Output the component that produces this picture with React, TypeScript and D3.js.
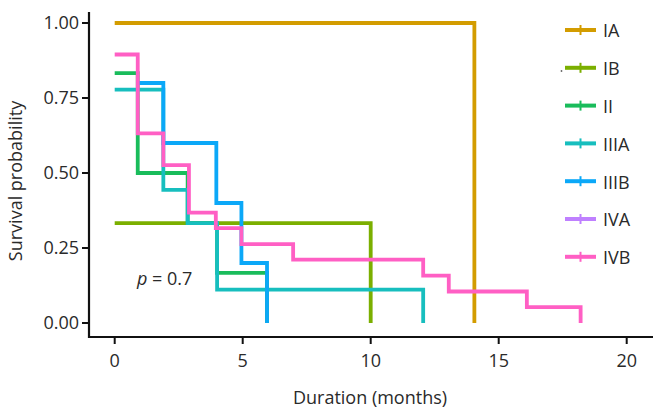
import React from "react";
import * as d3 from "d3";

const strata = ["IA", "IB", "II", "IIIA", "IIIB", "IVA", "IVB"];
const colors = ["#D39C00", "#7BAF00", "#19BC5B", "#17BEBE", "#0BA8F8", "#BF80FF", "#FF5FC4"];

// step curves: times at which survival changes, and survival after each time
const timesIA = [0, 14.05];
const survIA = [1.0, 0];
const timesIB = [0, 10.0];
const survIB = [0.333, 0];
const timesII = [0, 0.9, 2.85, 4.0, 5.95];
const survII = [0.833, 0.5, 0.333, 0.167, 0];
const timesIIIA = [0, 1.9, 2.85, 4.0, 12.05];
const survIIIA = [0.778, 0.444, 0.333, 0.111, 0];
const timesIIIB = [0.9, 1.9, 3.97, 4.95, 5.95];
const survIIIB = [0.8, 0.6, 0.4, 0.2, 0];
const timesIVA: number[] = [];
const survIVA: number[] = [];
const timesIVB = [0, 0.9, 1.9, 2.9, 3.95, 4.95, 6.97, 12.05, 13.05, 16.1, 18.2];
const survIVB = [0.895, 0.632, 0.526, 0.368, 0.316, 0.263, 0.211, 0.158, 0.105, 0.053, 0];

const seriesTimes = [timesIA, timesIB, timesII, timesIIIA, timesIIIB, timesIVA, timesIVB];
const seriesSurv = [survIA, survIB, survII, survIIIA, survIIIB, survIVA, survIVB];

const xTicks = [0, 5, 10, 15, 20];
const yTicks = [0, 0.25, 0.5, 0.75, 1.0];
const pLabel = "0.7";

const W = 657;
const H = 415;
const FONT = "'Open Sans', 'Noto Sans', sans-serif";
const TXT = "#2a2a2a";

export default function App() {
  const x = d3.scaleLinear().domain([0, 20]).range([114.7, 626.7]);
  const y = d3.scaleLinear().domain([0, 1]).range([323, 23]);
  const fmt = d3.format(".2f");

  const stepPath = (ts: number[], ss: number[]) => {
    if (!ts.length) return "";
    const p = d3.path();
    p.moveTo(x(ts[0]), y(ss[0]));
    for (let i = 1; i < ts.length; i++) {
      p.lineTo(x(ts[i]), y(ss[i - 1]));
      p.lineTo(x(ts[i]), y(ss[i]));
    }
    return p.toString();
  };

  const axisX = 89;
  const axisY = 337;
  const legendX = 565;
  const legendY0 = 30;
  const legendStep = 37.8;
  const FS = 18;

  return (
    <svg
      width={W}
      height={H}
      style={{ position: "fixed", left: 0, top: 0, background: "#fff" }}
      fontFamily={FONT}
    >
      <rect x={0} y={0} width={W} height={H} fill="#fff" />
      {/* curves */}
      {strata.map((s, i) => (
        <path
          key={s}
          d={stepPath(seriesTimes[i], seriesSurv[i])}
          fill="none"
          stroke={colors[i]}
          strokeWidth={3.8}
          strokeLinejoin="miter"
        />
      ))}
      {/* axes */}
      <line x1={axisX} x2={axisX} y1={12} y2={axisY + 1} stroke="#111" strokeWidth={2.2} />
      <line x1={axisX - 1} x2={653} y1={axisY} y2={axisY} stroke="#111" strokeWidth={2.2} />
      {yTicks.map((t) => (
        <g key={t}>
          <line x1={axisX - 7} x2={axisX} y1={y(t)} y2={y(t)} stroke="#111" strokeWidth={2} />
          <text x={79} y={y(t)} dy="0.36em" textAnchor="end" fontSize={FS} fill={TXT}>
            {fmt(t)}
          </text>
        </g>
      ))}
      {xTicks.map((t) => (
        <g key={t}>
          <line x1={x(t)} x2={x(t)} y1={axisY} y2={axisY + 7} stroke="#111" strokeWidth={2} />
          <text x={x(t)} y={367} textAnchor="middle" fontSize={FS} fill={TXT}>
            {t}
          </text>
        </g>
      ))}
      <text x={370} y={404} textAnchor="middle" fontSize={FS} fill={TXT}>
        Duration (months)
      </text>
      <text
        transform={`translate(22,181) rotate(-90)`}
        textAnchor="middle"
        fontSize={FS}
        fill={TXT}
      >
        Survival probability
      </text>
      <text x={137} y={285} fontSize={FS} fill={TXT}>
        <tspan fontStyle="italic">p</tspan>
        {" = " + pLabel}
      </text>
      {/* legend */}
      {strata.map((s, i) => {
        const ly = legendY0 + i * legendStep;
        return (
          <g key={s}>
            <line x1={legendX} x2={legendX + 31} y1={ly} y2={ly} stroke={colors[i]} strokeWidth={4} />
            <line
              x1={legendX + 15.5}
              x2={legendX + 15.5}
              y1={ly - 5}
              y2={ly + 5}
              stroke={colors[i]}
              strokeWidth={2}
            />
            <text x={603} y={ly + 1} dy="0.36em" fontSize={FS} fill={TXT}>
              {s}
            </text>
          </g>
        );
      })}
      <circle cx={561.5} cy={71} r={0.9} fill="#666" />
    </svg>
  );
}
